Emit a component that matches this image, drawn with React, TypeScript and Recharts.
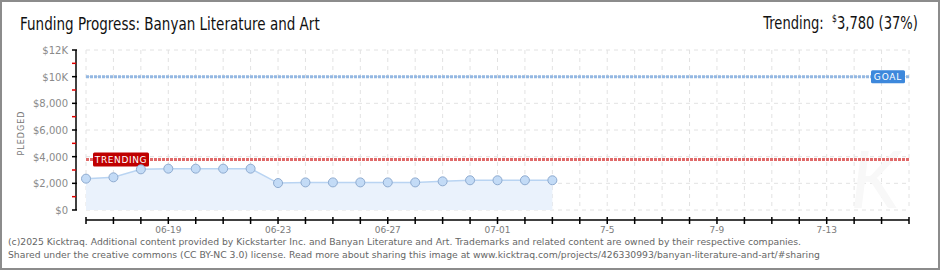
import React from 'react';
import { ComposedChart, Area, XAxis, YAxis, CartesianGrid, ReferenceLine } from 'recharts';

// days on the x axis (06-16 .. 07-16)
const dayLabels = [
    '06-16', '06-17', '06-18', '06-19', '06-20', '06-21', '06-22', '06-23', '06-24', '06-25', '06-26',
    '06-27', '06-28', '06-29', '06-30', '07-01', '07-02', '07-03', '07-04', '07-05', '07-06', '07-07',
    '07-08', '07-09', '07-10', '07-11', '07-12', '07-13', '07-14', '07-15', '07-16',
];
// daily pledged totals, 06-16 .. 07-03
const pledged = [2350, 2450, 3050, 3100, 3100, 3100, 3100, 2020, 2070, 2070, 2070, 2070, 2070, 2150, 2230, 2230, 2230, 2230];
const xTickLabels: Record<number, string> = { 3: '06-19', 7: '06-23', 11: '06-27', 15: '07-01', 19: '7-5', 23: '7-9', 27: '7-13' };
const yTicks = [0, 1000, 2000, 3000, 4000, 5000, 6000, 7000, 8000, 9000, 10000, 11000, 12000];
const yTickLabels: Record<number, string> = { 0: '$0', 2000: '$2,000', 4000: '$4,000', 6000: '$6,000', 8000: '$8,000', 10000: '$10K', 12000: '$12K' };
const gridValues = [0, 2000, 4000, 6000, 8000, 10000, 12000];
const GOAL = 10000;
const TRENDING = 3780;

const data = pledged.map((value, i) => ({ day: i, value }));

const W = 940;
const H = 270;
const PLOT_TOP = 50;
const PLOT_BOTTOM = 210;
const PLOT_LEFT = 86;
const PLOT_RIGHT = 909;
const AXIS_GAP = 10;

const tickFont = '"DejaVu Sans", Verdana, sans-serif';
const titleFont = '"DejaVu Sans", sans-serif';

const YTick: React.FC<any> = ({ y, payload, index }) => {
    const ax = PLOT_LEFT - AXIS_GAP;
    const v = payload.value as number;
    const major = yTickLabels[v] !== undefined;
    return (
        <g>
            {index === 0 && <line x1={ax} x2={ax} y1={y} y2={PLOT_TOP} stroke="#000" strokeWidth={1.5} />}
            {major ? (
                <line x1={ax - 4} x2={ax + 1} y1={y} y2={y} stroke="#000" strokeWidth={1.5} />
            ) : (
                <line x1={ax - 4} x2={ax} y1={y} y2={y} stroke="#e00000" strokeWidth={1.5} />
            )}
            {major && (
                <text x={ax - 8} y={y} dy={4} textAnchor="end" fontSize={10} fontFamily={tickFont} fill="#8a8a8a">
                    {yTickLabels[v]}
                </text>
            )}
        </g>
    );
};

const XTick: React.FC<any> = ({ x, payload, index }) => {
    const ay = PLOT_BOTTOM + AXIS_GAP;
    const label = xTickLabels[payload.value as number];
    return (
        <g>
            {index === 0 && <line x1={x} x2={PLOT_RIGHT} y1={ay} y2={ay} stroke="#000" strokeWidth={1.5} />}
            <line x1={x} x2={x} y1={ay - 3} y2={ay + 4} stroke="#000" strokeWidth={1.5} />
            {label && (
                <text x={x} y={ay + 13} textAnchor="middle" fontSize={9} fontFamily={tickFont} fill="#7a7a7a">
                    {label}
                </text>
            )}
        </g>
    );
};

const GoalLabel: React.FC<any> = ({ viewBox }) => {
    const bx = viewBox.x + viewBox.width - 38;
    const by = viewBox.y - 6.5;
    return (
        <g>
            <rect x={bx} y={by} width={34} height={13} rx={1.5} fill="#3d88dc" />
            <text x={bx + 17} y={by + 10} textAnchor="middle" fontSize={9} fontFamily={tickFont} fill="#fff" letterSpacing={0.8}>
                GOAL
            </text>
        </g>
    );
};

const TrendingLabel: React.FC<any> = ({ viewBox }) => {
    const bx = viewBox.x + 7;
    const by = viewBox.y - 7;
    return (
        <g>
            <rect x={bx} y={by} width={56} height={14} rx={1.5} fill="#bf0000" />
            <text x={bx + 28} y={by + 10.5} textAnchor="middle" fontSize={9} fontFamily={tickFont} fill="#fff" letterSpacing={0.6}>
                TRENDING
            </text>
        </g>
    );
};

const App: React.FC = () => {
    return (
        <div
            style={{
                position: 'absolute',
                left: 0,
                top: 0,
                width: W,
                height: H,
                boxSizing: 'border-box',
                border: '2px solid #8c8c8c',
                background: '#fff',
                overflow: 'hidden',
            }}
        >
            <div style={{ position: 'absolute', left: -2, top: -2 }}>
                <ComposedChart
                    width={W}
                    height={H}
                    data={data}
                    margin={{ top: PLOT_TOP, right: W - PLOT_RIGHT, bottom: 30, left: 0 }}
                >
                    <text x={875} y={208} fontSize={80} fontStyle="italic" fontFamily="Lato, sans-serif" fill="#f8f8f8" textAnchor="middle">
                        K
                    </text>
                    <CartesianGrid stroke="#e2e2e2" strokeDasharray="4 4" horizontalValues={gridValues} />
                    <XAxis
                        dataKey="day"
                        type="number"
                        domain={[0, dayLabels.length - 1]}
                        ticks={dayLabels.map((_, i) => i)}
                        interval={0}
                        height={H - 30 - PLOT_BOTTOM}
                        axisLine={false}
                        tickLine={false}
                        tickSize={0}
                        tickMargin={0}
                        tick={<XTick />}
                    />
                    <YAxis
                        type="number"
                        domain={[0, 12000]}
                        ticks={yTicks}
                        interval={0}
                        width={PLOT_LEFT}
                        axisLine={false}
                        tickLine={false}
                        tickSize={0}
                        tickMargin={0}
                        tick={<YTick />}
                    />
                    <Area
                        type="linear"
                        dataKey="value"
                        stroke="#b9d4f2"
                        strokeWidth={1.5}
                        fill="#eaf2fc"
                        fillOpacity={1}
                        dot={{ r: 4.5, fill: '#c3dbf6', stroke: '#8eabd0', strokeWidth: 1 }}
                        activeDot={false}
                        isAnimationActive={false}
                    />
                    <ReferenceLine y={GOAL} stroke="#94b8e2" strokeWidth={3} strokeDasharray="3 1" label={<GoalLabel />} />
                    <ReferenceLine y={TRENDING} stroke="#e06a6a" strokeWidth={3} strokeDasharray="3 1" label={<TrendingLabel />} />
                </ComposedChart>
            </div>
            <div
                style={{
                    position: 'absolute',
                    left: 18,
                    top: 11,
                    fontFamily: titleFont,
                    fontSize: 18,
                    color: '#111',
                    whiteSpace: 'nowrap',
                    transform: 'scaleX(0.75)',
                    transformOrigin: 'left center',
                }}
            >
                Funding Progress: Banyan Literature and Art
            </div>
            <div
                style={{
                    position: 'absolute',
                    right: 20,
                    top: 11,
                    fontFamily: titleFont,
                    fontSize: 17,
                    color: '#111',
                    whiteSpace: 'nowrap',
                    transform: 'scaleX(0.77)',
                    transformOrigin: 'right center',
                }}
            >
                Trending:&nbsp;&nbsp;<sup style={{ fontSize: 10 }}>$</sup>3,780 (37%)
            </div>
            <div
                style={{
                    position: 'absolute',
                    left: 19,
                    top: 131,
                    transform: 'translate(-50%, -50%) rotate(-90deg)',
                    fontFamily: tickFont,
                    fontSize: 8,
                    letterSpacing: 1,
                    color: '#777',
                    whiteSpace: 'nowrap',
                }}
            >
                PLEDGED
            </div>
            <div
                style={{
                    position: 'absolute',
                    left: 6,
                    top: 234,
                    fontFamily: tickFont,
                    fontSize: 9.25,
                    lineHeight: '12.7px',
                    color: '#666',
                    whiteSpace: 'nowrap',
                }}
            >
                (c)2025 Kicktraq. Additional content provided by Kickstarter Inc. and Banyan Literature and Art. Trademarks and related content are owned by their respective companies.
                <br />
                Shared under the creative commons (CC BY-NC 3.0) license. Read more about sharing this image at www.kicktraq.com/projects/426330993/banyan-literature-and-art/#sharing
            </div>
        </div>
    );
};

export default App;
